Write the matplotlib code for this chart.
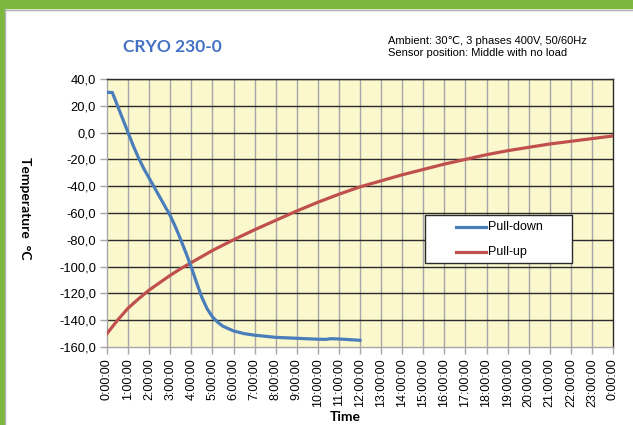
"""CRYO 230-0 pull-down / pull-up temperature curves."""

import matplotlib

matplotlib.use("Agg")
import matplotlib.pyplot as plt
from matplotlib.lines import Line2D
from matplotlib.patches import Rectangle

# --- Data (hours since start, temperature in °C) -------------------------
PULLDOWN_H = [0.0, 0.25, 0.5, 0.75, 1.0, 1.25, 1.5, 1.75, 2.0, 2.25, 2.5, 2.75,
              3.0, 3.25, 3.5, 3.75, 4.0, 4.25, 4.5, 4.75, 5.0, 5.25, 5.5, 6.0, 6.5,
              7.0, 8.0, 9.0, 10.0, 10.4, 10.6, 11.0, 12.0]
PULLDOWN_T = [30.0, 30.0, 20.0, 10.0, 0.0, -10.0, -19.0, -27.0, -34.0, -41.0, -48.0, -55.0,
              -62.0, -70.5, -80.0, -90.0, -100.5, -112.0, -123.0, -131.5, -137.5, -141.5,
              -144.5, -148.0, -150.0, -151.2, -152.8, -153.5, -154.2, -154.3, -153.8,
              -154.0, -155.0]

PULLUP_H = [0.0, 0.5, 1.0, 1.5, 2.0, 2.5, 3.0, 3.5, 4.0, 5.0, 6.0, 7.0, 8.0, 9.0,
            10.0, 11.0, 12.0, 13.0, 14.0, 15.0, 16.0, 17.0, 18.0, 19.0, 20.0,
            21.0, 22.0, 23.0, 24.0]
PULLUP_T = [-150.0, -140.0, -131.0, -124.0, -117.5, -112.0, -106.5, -101.5, -97.0, -88.0,
            -80.0, -72.5, -65.5, -58.5, -52.0, -46.0, -40.5, -36.0, -31.5, -27.5, -23.5,
            -20.0, -16.5, -13.5, -11.0, -8.5, -6.5, -4.5, -2.5]

SERIES = ["Pull-down", "Pull-up"]
X_TICKS = list(range(0, 25))
X_LABELS = [f"{h % 24}:00:00" for h in X_TICKS]
Y_TICKS = list(range(-160, 41, 20))
Y_LABELS = [f"{v},0" for v in Y_TICKS]

TITLE = "CRYO 230-0"
NOTE = "Ambient: 30\u2103, 3 phases 400V, 50/60Hz\nSensor position: Middle with no load"

BLUE = "#4A7EBB"
RED = "#C0504D"
W, H = 633, 425


def px(x, y):
    """figure pixel (from top-left) -> figure fraction"""
    return x / W, 1 - y / H


def main() -> None:
    plt.rcParams["font.family"] = ["Liberation Sans", "DejaVu Sans"]
    fig = plt.figure(figsize=(W / 100, H / 100), dpi=100)

    # green frame (top + left) with thin grey inner line
    fig.patches.append(Rectangle((0, 1 - 8 / H), 1, 8 / H, transform=fig.transFigure,
                                 color="#7DB83E", zorder=0))
    fig.patches.append(Rectangle((0, 0), 4 / W, 1, transform=fig.transFigure,
                                 color="#7DB83E", zorder=0))
    fig.add_artist(Line2D([5 / W, 5 / W], [0, 1 - 9 / H], transform=fig.transFigure,
                          color="#B0B0B0", lw=1.0))
    fig.add_artist(Line2D([5 / W, 1], [1 - 9.5 / H, 1 - 9.5 / H], transform=fig.transFigure,
                          color="#B0B0B0", lw=1.0))

    left, right, top, bottom = 107, 613, 79, 347
    ax = fig.add_axes([left / W, 1 - bottom / H, (right - left) / W, (bottom - top) / H])
    ax.set_facecolor("#FBF8CE")
    ax.set_xlim(0, 24)
    ax.set_ylim(-160, 40)

    for x in X_TICKS[1:-1]:
        ax.axvline(x, color="#A6A6A6", lw=1.0, zorder=1)
    for y in Y_TICKS[1:]:
        ax.axhline(y, color="#2B2B2B", lw=1.0, zorder=2)

    ax.plot(PULLDOWN_H, PULLDOWN_T, color=BLUE, lw=2.3, zorder=4,
            solid_joinstyle="round")
    ax.plot(PULLUP_H, PULLUP_T, color=RED, lw=2.3, zorder=3,
            solid_joinstyle="round")

    ax.set_xticks(X_TICKS)
    ax.set_xticklabels(X_LABELS, rotation=90, fontsize=9)
    ax.set_yticks(Y_TICKS)
    ax.set_yticklabels(Y_LABELS, fontsize=9.3)
    ax.tick_params(axis="both", color="#A6A6A6", length=5, width=1.0, pad=3)

    for side in ("left", "bottom"):
        ax.spines[side].set_color("#A6A6A6")
    for side in ("top", "right"):
        ax.spines[side].set_color("#2B2B2B")
    for s in ax.spines.values():
        s.set_linewidth(1.0)

    # --- legend box, drawn in figure pixels like the Excel original -------
    bx0, by0, bx1, by1 = 425, 215, 572, 263
    fig.patches.append(Rectangle(px(bx0, by1), (bx1 - bx0) / W, (by1 - by0) / H,
                                 transform=fig.transFigure, facecolor="white",
                                 edgecolor="#2B2B2B", lw=1.0, zorder=5))
    for i, (name, col) in enumerate(zip(SERIES, [BLUE, RED])):
        ly = 227 + i * 25
        (x0, y0), (x1, _) = px(456, ly), px(486, ly)
        fig.add_artist(Line2D([x0, x1], [y0, y0], transform=fig.transFigure,
                              color=col, lw=2.3, zorder=6))
        fig.text(*px(488, ly), name, fontsize=9, ha="left", va="center", zorder=6)

    fig.text(*px(172, 47), TITLE, fontsize=12.5, fontweight="bold",
             color="#4472C4", family=["Lato", "DejaVu Sans"], ha="center", va="center")
    fig.text(*px(388, 47), NOTE, fontsize=8, ha="left", va="center",
             linespacing=1.3)
    fig.text(*px(25, 208), "Temperature  \u00b0C", rotation=270, fontsize=10,
             fontweight="bold", family=["Lato", "DejaVu Sans"], ha="center", va="center")
    fig.text(*px(345, 417), "Time", fontsize=10, fontweight="bold",
             family=["Lato", "DejaVu Sans"], ha="center", va="center")

    fig.savefig("out.png", dpi=100)
    plt.close(fig)


if __name__ == "__main__":
    main()
